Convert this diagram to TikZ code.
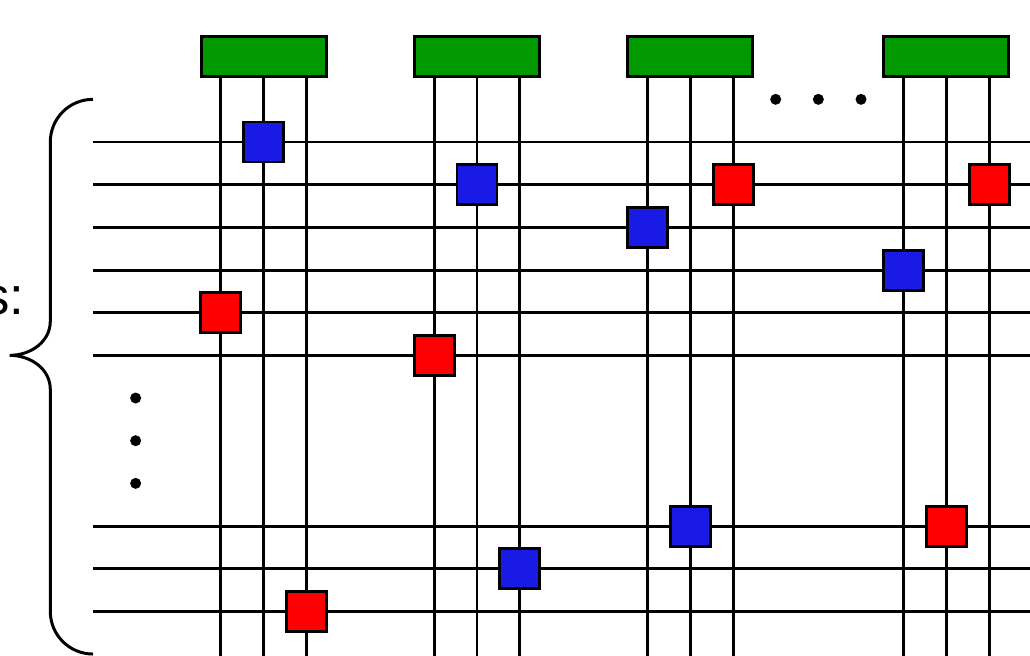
\documentclass[tikz,border=0pt]{standalone}
\usepackage{fontspec}
\setsansfont{Liberation Sans}
\definecolor{verdeporta}{RGB}{0,153,0}
\definecolor{bluqubit}{RGB}{26,26,230}
\definecolor{rossoqubit}{RGB}{255,0,0}
\tikzset{
  filo/.style={line width=1.7pt, black},
  porta/.style={draw, line width=1.7pt, fill=verdeporta, minimum width=2.5cm, minimum height=0.8cm, inner sep=0pt},
  blocco/.style={draw, line width=1.7pt, minimum size=0.8cm, inner sep=0pt},
  puntino/.style={circle, fill=black, inner sep=0pt, minimum size=0.22cm}
}
\begin{document}
\begin{tikzpicture}[x=0.8533cm, y=-0.8533cm]
    % Area del disegno (i fili escono dal bordo destro e in basso)
    \useasboundingbox (-5.179,-3.328) rectangle (18.960,12.023);

    % Fili orizzontali (righe 0-5 e 9-11)
    \foreach \r in {0,...,5,9,10,11} {
        \coordinate (inizio\r) at (-3,\r);
        \coordinate (fine\r) at (19.3,\r);
        \draw[filo] (inizio\r) -- (fine\r);
    }

    % Fili verticali, tre per ogni porta verde
    \foreach \c in {0,1,2,5,6,7,10,11,12,16,17,18} {
        \coordinate (alto\c) at (\c,-2);
        \coordinate (basso\c) at (\c,12.3);
        \draw[filo] (alto\c) -- (basso\c);
    }

    % Porte verdi in cima
    \node[porta] (porta1) at (1,-2) {};
    \node[porta] (porta2) at (6,-2) {};
    \node[porta] (porta3) at (11,-2) {};
    \node[porta] (porta4) at (17,-2) {};

    % Blocchi blu
    \foreach \c/\r [count=\i] in {1/0, 6/1, 10/2, 16/3, 11/9, 7/10}
        \node[blocco, fill=bluqubit] (blu\i) at (\c,\r) {};

    % Blocchi rossi
    \foreach \c/\r [count=\i] in {12/1, 18/1, 0/4, 5/5, 2/11, 17/9}
        \node[blocco, fill=rossoqubit] (rosso\i) at (\c,\r) {};

    % Puntini di sospensione
    \foreach \c [count=\i] in {13,14,15}
        \node[puntino] (oriz\i) at (\c,-1) {};
    \foreach \r [count=\i] in {6,7,8}
        \node[puntino] (vert\i) at (-2,\r) {};

    % Parentesi graffa a sinistra
    \coordinate (graffaA) at (-3,-1);
    \coordinate (punta) at (-4.95,5);
    \coordinate (graffaB) at (-3,12);
    \draw[filo] (graffaA) to[out=180, in=90] (-4,0) -- (-4,4.2)
        to[out=-90, in=0] (punta)
        to[out=0, in=90] (-4,5.8) -- (-4,11)
        to[out=-90, in=180] (graffaB);

    % Etichetta (tagliata dal bordo sinistro)
    \node[anchor=base east, inner sep=0pt, font=\sffamily\fontsize{30}{36}\selectfont] (etichetta) at (-4.6,4.05) {s:};
\end{tikzpicture}
\end{document}
